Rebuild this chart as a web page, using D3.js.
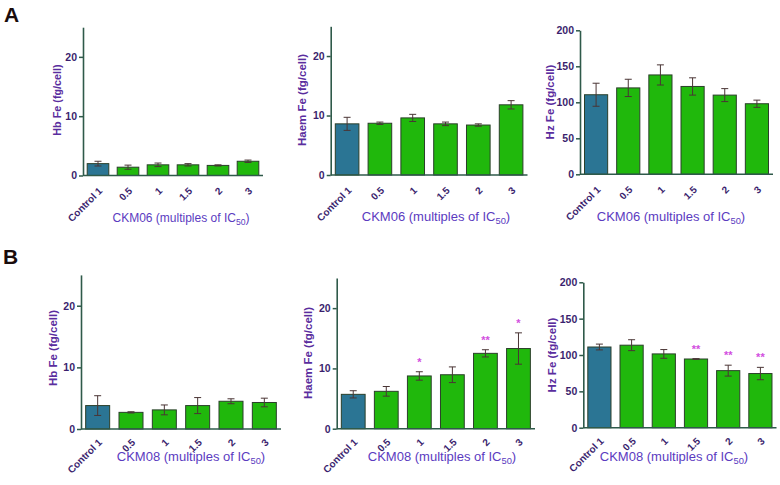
<!DOCTYPE html>
<html><head><meta charset="utf-8">
<script src="https://cdn.jsdelivr.net/npm/d3@7"></script>
<style>body{margin:0;background:#fff;}svg{display:block;font-family:"Liberation Sans",Arial,sans-serif;}</style>
</head><body>
<svg id="c" width="780" height="485"></svg>
<script>
const categories = ["Control 1","0.5","1","1.5","2","3"];
const hbA = [2.0,1.4,1.8,1.8,1.7,2.4];
const hbAErr = [0.4,0.35,0.3,0.2,0.1,0.2];
const haemA = [8.6,8.7,9.6,8.6,8.4,11.8];
const haemAErr = [1.1,0.2,0.6,0.3,0.2,0.7];
const hzA = [110.5,120,138,122,110,98];
const hzAErr = [16,12,14,12,9,5];
const hbB = [3.8,2.7,3.1,3.8,4.5,4.3];
const hbBErr = [1.6,0.1,0.8,1.3,0.4,0.7];
const haemB = [5.7,6.2,8.75,8.95,12.5,13.3];
const haemBErr = [0.6,0.8,0.7,1.3,0.6,2.6];
const hzB = [111,113.5,101.5,94.5,78.5,74.5];
const hzBErr = [4,7.5,6,0.5,7.5,8.5];
const sigHaemB = ["","","*","","**","*"];
const sigHzB = ["","","","**","**","**"];
const ticksFe = [0,10,20];
const ticksHz = [0,50,100,150,200];

const panels = [
 {vals:hbA, err:hbAErr, max:25, ticks:ticksFe, ytitle:"Hb Fe (fg/cell)", drug:"CKM06", x0:83, x1:263, yT:27.2, yZ:175.5, tx:57, ty:100, xtX:181, xtY:222, xfs:12, yfs:10.8, lblY:16},
 {vals:haemA, err:haemAErr, max:25, ticks:ticksFe, ytitle:"Haem Fe (fg/cell)", drug:"CKM06", x0:330.7, x1:527.5, yT:26.3, yZ:175, tx:302, ty:100, xtX:436, xtY:221, xfs:13, yfs:11.5, lblY:16},
 {vals:hzA, err:hzAErr, max:200, ticks:ticksHz, ytitle:"Hz Fe (fg/cell)", drug:"CKM06", x0:580, x1:773, yT:30.3, yZ:174.3, tx:550, ty:102, xtX:671, xtY:221, xfs:13, yfs:11.5, lblY:16},
 {vals:hbB, err:hbBErr, max:25, ticks:ticksFe, ytitle:"Hb Fe (fg/cell)", drug:"CKM08", x0:81, x1:281, yT:274.9, yZ:429, tx:53, ty:348, xtX:191, xtY:461, xfs:13, yfs:11.5, lblY:14},
 {vals:haemB, err:haemBErr, max:25, ticks:ticksFe, ytitle:"Haem Fe (fg/cell)", drug:"CKM08", x0:336.7, x1:535, yT:278, yZ:428.7, tx:308, ty:353, xtX:442, xtY:461, xfs:13, yfs:11.5, sig:sigHaemB, lblY:14},
 {vals:hzB, err:hzBErr, max:200, ticks:ticksHz, ytitle:"Hz Fe (fg/cell)", drug:"CKM08", x0:583.3, x1:776.5, yT:282.3, yZ:427.7, tx:552, ty:355, xtX:674, xtY:461, xfs:13, yfs:11.5, sig:sigHzB, lblY:14}
];

const svg = d3.select("#c");
const axisCol = "#2f5a4a", tickTxt = "#3b1f6e", titleCol = "#5a2d9e", xTitleCol = "#5b3bbf";
const green = "#20b80c", ctrl = "#2b7594", barStroke = "#2b3f2a", errCol = "#4a3535", starCol = "#d24ee0";

panels.forEach(p => {
  const x = d3.scaleBand().domain(categories).range([p.x0, p.x1]).paddingInner(0.28).paddingOuter(0.14);
  const y = d3.scaleLinear().domain([0, p.max]).range([p.yZ, p.yT]);
  const g = svg.append("g");
  g.selectAll("rect.bar").data(p.vals).join("rect")
    .attr("x", (d,i) => x(categories[i]))
    .attr("width", x.bandwidth())
    .attr("y", d => y(d))
    .attr("height", d => y(0) - y(d))
    .attr("fill", (d,i) => i === 0 ? ctrl : green)
    .attr("stroke", barStroke).attr("stroke-width", 1);
  const eg = g.selectAll("g.err").data(p.vals).join("g")
    .attr("transform", (d,i) => `translate(${x(categories[i]) + x.bandwidth()/2},0)`);
  eg.append("line").attr("x1",0).attr("x2",0)
    .attr("y1",(d,i)=>y(d - p.err[i])).attr("y2",(d,i)=>y(d + p.err[i]))
    .attr("stroke", errCol).attr("stroke-width", 1);
  eg.append("line").attr("x1",-3.5).attr("x2",3.5)
    .attr("y1",(d,i)=>y(d + p.err[i])).attr("y2",(d,i)=>y(d + p.err[i]))
    .attr("stroke", errCol).attr("stroke-width", 1);
  eg.append("line").attr("x1",-3.5).attr("x2",3.5)
    .attr("y1",(d,i)=>y(d - p.err[i])).attr("y2",(d,i)=>y(d - p.err[i]))
    .attr("stroke", errCol).attr("stroke-width", 1);
  if (p.sig) {
    eg.append("text").text((d,i)=>p.sig[i])
      .attr("text-anchor","middle")
      .attr("y",(d,i)=>y(d + p.err[i]) - 6)
      .attr("fill", starCol).attr("font-size", 11).attr("font-weight","bold");
  }
  const ya = g.append("g").attr("transform", `translate(${p.x0},0)`)
    .call(d3.axisLeft(y).tickValues(p.ticks).tickSize(4).tickPadding(2).tickSizeOuter(0));
  ya.select(".domain").attr("stroke", axisCol).attr("stroke-width", 1.6);
  ya.selectAll(".tick line").attr("stroke", axisCol).attr("stroke-width", 1.5);
  ya.selectAll(".tick text").attr("fill", tickTxt).attr("font-size", 10.5).attr("font-weight","bold").attr("font-family","Liberation Sans, Arial, sans-serif");
  const xa = g.append("g").attr("transform", `translate(0,${p.yZ})`)
    .call(d3.axisBottom(x).tickSize(0).tickSizeOuter(0));
  xa.select(".domain").attr("stroke", axisCol).attr("stroke-width", 1.6)
    .attr("d", `M${p.x0},0H${p.x1}`);
  xa.selectAll(".tick text")
    .attr("x",0).attr("y",0).attr("dy",null)
    .attr("transform",`translate(5,${p.lblY}) rotate(-45)`)
    .attr("text-anchor","end")
    .attr("fill", tickTxt).attr("font-size", 10).attr("font-weight","bold")
    .attr("font-family","Liberation Sans, Arial, sans-serif");
  g.append("text").attr("transform", `translate(${p.tx},${p.ty}) rotate(-90)`)
    .attr("text-anchor","middle").attr("dy","0.35em")
    .attr("fill", titleCol).attr("font-size", p.yfs).attr("font-weight","bold")
    .text(p.ytitle);
  const xt = g.append("text").attr("x", p.xtX).attr("y", p.xtY)
    .attr("text-anchor","middle").attr("fill", xTitleCol).attr("font-size", p.xfs);
  xt.append("tspan").text(p.drug + " (multiples of IC");
  xt.append("tspan").text("50").attr("font-size", p.xfs*0.72).attr("dy", 3);
  xt.append("tspan").text(")").attr("dy", -3);
});

svg.append("text").attr("x",4).attr("y",22).text("A").attr("font-size",21).attr("font-weight","bold").attr("fill","#1a0c0c");
svg.append("text").attr("x",3).attr("y",264).text("B").attr("font-size",21).attr("font-weight","bold").attr("fill","#1a0c0c");
</script>
</body></html>
